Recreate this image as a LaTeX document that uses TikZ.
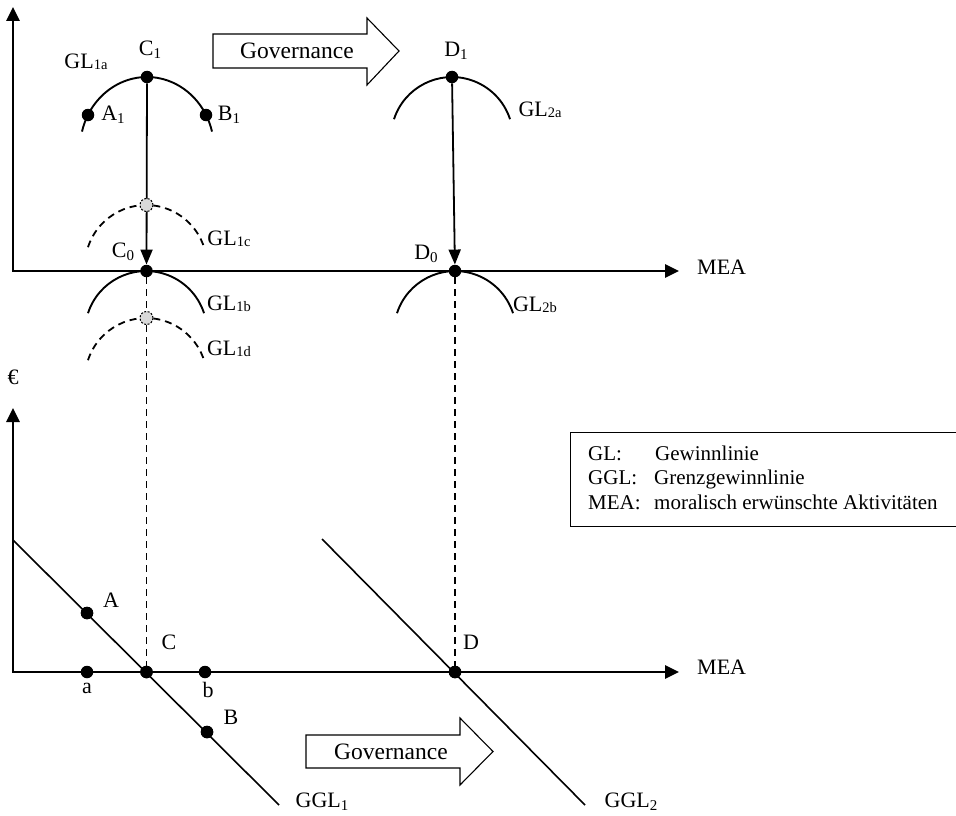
\documentclass[tikz,border=0pt]{standalone}
\usepackage{fontspec}
\setmainfont{Liberation Serif}
\usetikzlibrary{arrows.meta}
\newcommand\lsub[1]{\raisebox{-3pt}{\fontsize{15}{15}\selectfont #1}}
\newcommand\gsub[1]{\raisebox{-1pt}{\fontsize{14.5}{15}\selectfont #1}}
\begin{document}
\begin{tikzpicture}[x=1pt,y=1pt,
  dot/.style={circle,fill=black,inner sep=0pt,minimum size=12.5pt},
  gdot/.style={circle,draw=black,dash pattern=on 2pt off 1.5pt,fill=gray!30,inner sep=0pt,minimum size=13pt,line width=1pt},
  lbl/.style={font=\fontsize{22}{26}\selectfont,inner sep=0pt},
  leg/.style={font=\fontsize{21}{25}\selectfont,inner sep=0pt,anchor=base west},
  axis/.style={line width=2.6pt,{Triangle[length=14pt,width=13pt]}-{Triangle[length=14pt,width=13pt]}},
  curve/.style={line width=1.9pt},
  dcurve/.style={line width=1.8pt,dash pattern=on 7pt off 5pt},
  vline/.style={line width=1.8pt,-{Triangle[length=15pt,width=12pt]}},
  gline/.style={line width=1.6pt},
  block/.style={draw,line width=1.1pt,fill=white}]
\useasboundingbox (0,0) rectangle (956,-816);

% ---------- top diagram ----------
\coordinate (ty) at (13,-7);
\coordinate (o1) at (13,-271);
\coordinate (tx) at (679,-271);
\draw[axis] (ty) -- (o1) -- (tx);
\node[lbl,anchor=west] (mea1) at (697,-267) {MEA};

% curves
\draw[curve] (82,-131.6) arc[start angle=166,end angle=14,x radius=67,y radius=72];
\draw[dcurve] (88,-247.2) arc[start angle=162,end angle=18,radius=61];
\draw[curve] (88,-313.2) arc[start angle=162,end angle=18,radius=61];
\draw[dcurve] (88,-360.2) arc[start angle=162,end angle=18,radius=61];
\draw[curve] (394,-119.2) arc[start angle=162,end angle=18,radius=61];
\draw[curve] (397,-313.2) arc[start angle=162,end angle=18,radius=61];

% points
\node[dot] (C1) at (147,-77) {};
\node[dot] (A1) at (88,-115) {};
\node[dot] (B1) at (206,-115) {};
\node[dot] (C0) at (146.5,-271) {};
\node[dot] (D1) at (452,-77) {};
\node[dot] (D0) at (455,-271) {};

% bottom points
\node[dot] (A) at (87,-613) {};
\node[dot] (C) at (146.5,-672) {};
\node[dot] (B) at (207,-732) {};
\node[dot] (a) at (87,-672) {};
\node[dot] (b) at (205,-672) {};
\node[dot] (D) at (455,-672) {};

% connectors
\draw[vline] (C1) -- (C0);
\draw[vline] (D1) -- (D0);
\draw[dcurve] (C0) -- (C);
\draw[dcurve] (D0) -- (D);
\node[gdot] (G1c) at (146.5,-205) {};
\node[gdot] (G1d) at (146.5,-318) {};

% labels top
\node[lbl] (lGL1a) at (86,-62) {GL\gsub{1a}};
\node[lbl] (lC1) at (150,-50) {C\lsub{1}};
\node[lbl] (lA1) at (113,-115) {A\lsub{1}};
\node[lbl] (lB1) at (229,-115) {B\lsub{1}};
\node[lbl] (lGL1c) at (229,-239) {GL\gsub{1c}};
\node[lbl] (lC0) at (123,-252) {C\lsub{0}};
\node[lbl] (lGL1b) at (229,-304) {GL\gsub{1b}};
\node[lbl] (lGL1d) at (229,-349) {GL\gsub{1d}};
\node[lbl] (lD1) at (456,-51) {D\lsub{1}};
\node[lbl] (lGL2a) at (540,-110) {GL\gsub{2a}};
\node[lbl] (lD0) at (426,-254) {D\lsub{0}};
\node[lbl] (lGL2b) at (535,-305) {GL\gsub{2b}};

% governance arrow top
\draw[block] (213,-34) -- (367,-34) -- (367,-18) -- (399,-51) -- (367,-85) -- (367,-68) -- (213,-68) -- cycle;
\node[lbl,font=\fontsize{23.5}{26}\selectfont] (gov1) at (297,-51) {Governance};

% ---------- bottom diagram ----------
\coordinate (by) at (13,-408);
\coordinate (o2) at (13,-672);
\coordinate (bx) at (679,-672);
\draw[axis] (by) -- (o2) -- (bx);
\node[lbl,anchor=west] (mea2) at (697,-667) {MEA};
\node[lbl] (euro) at (13,-377) {€};

\coordinate (g1s) at (13,-540);
\coordinate (g1e) at (279,-805);
\coordinate (g2s) at (322,-539);
\coordinate (g2e) at (585,-805);
\draw[gline] (g1s) -- (g1e);
\draw[gline] (g2s) -- (g2e);
\node[dot] at (A) {};
\node[dot] at (C) {};
\node[dot] at (B) {};
\node[dot] at (D) {};

\node[lbl] (lA) at (111,-600) {A};
\node[lbl] (lC) at (169,-642) {C};
\node[lbl] (la) at (87,-688) {a};
\node[lbl] (lb) at (208,-690) {b};
\node[lbl] (lB) at (231,-717) {B};
\node[lbl] (lD) at (471,-642) {D};
\node[lbl] (lGGL1) at (322,-802) {GGL\lsub{1}};
\node[lbl] (lGGL2) at (631,-802) {GGL\lsub{2}};

% governance arrow bottom
\draw[block] (306,-735) -- (460,-735) -- (460,-718) -- (493,-751.5) -- (460,-785) -- (460,-768) -- (306,-768) -- cycle;
\node[lbl,font=\fontsize{23.5}{26}\selectfont] (gov2) at (391,-752) {Governance};

% legend
\node[draw,line width=1.1pt,minimum width=392pt,minimum height=94pt,anchor=north west,inner sep=0pt] (legend) at (570,-432) {};
\node[leg] (k1) at (588,-460) {GL:};
\node[leg] (v1) at (655,-460) {Gewinnlinie};
\node[leg] (k2) at (588,-484.5) {GGL:};
\node[leg] (v2) at (654,-484.5) {Grenzgewinnlinie};
\node[leg] (k3) at (588,-509) {MEA:};
\node[leg] (v3) at (654,-509) {moralisch erwünschte Aktivitäten};
\end{tikzpicture}
\end{document}
